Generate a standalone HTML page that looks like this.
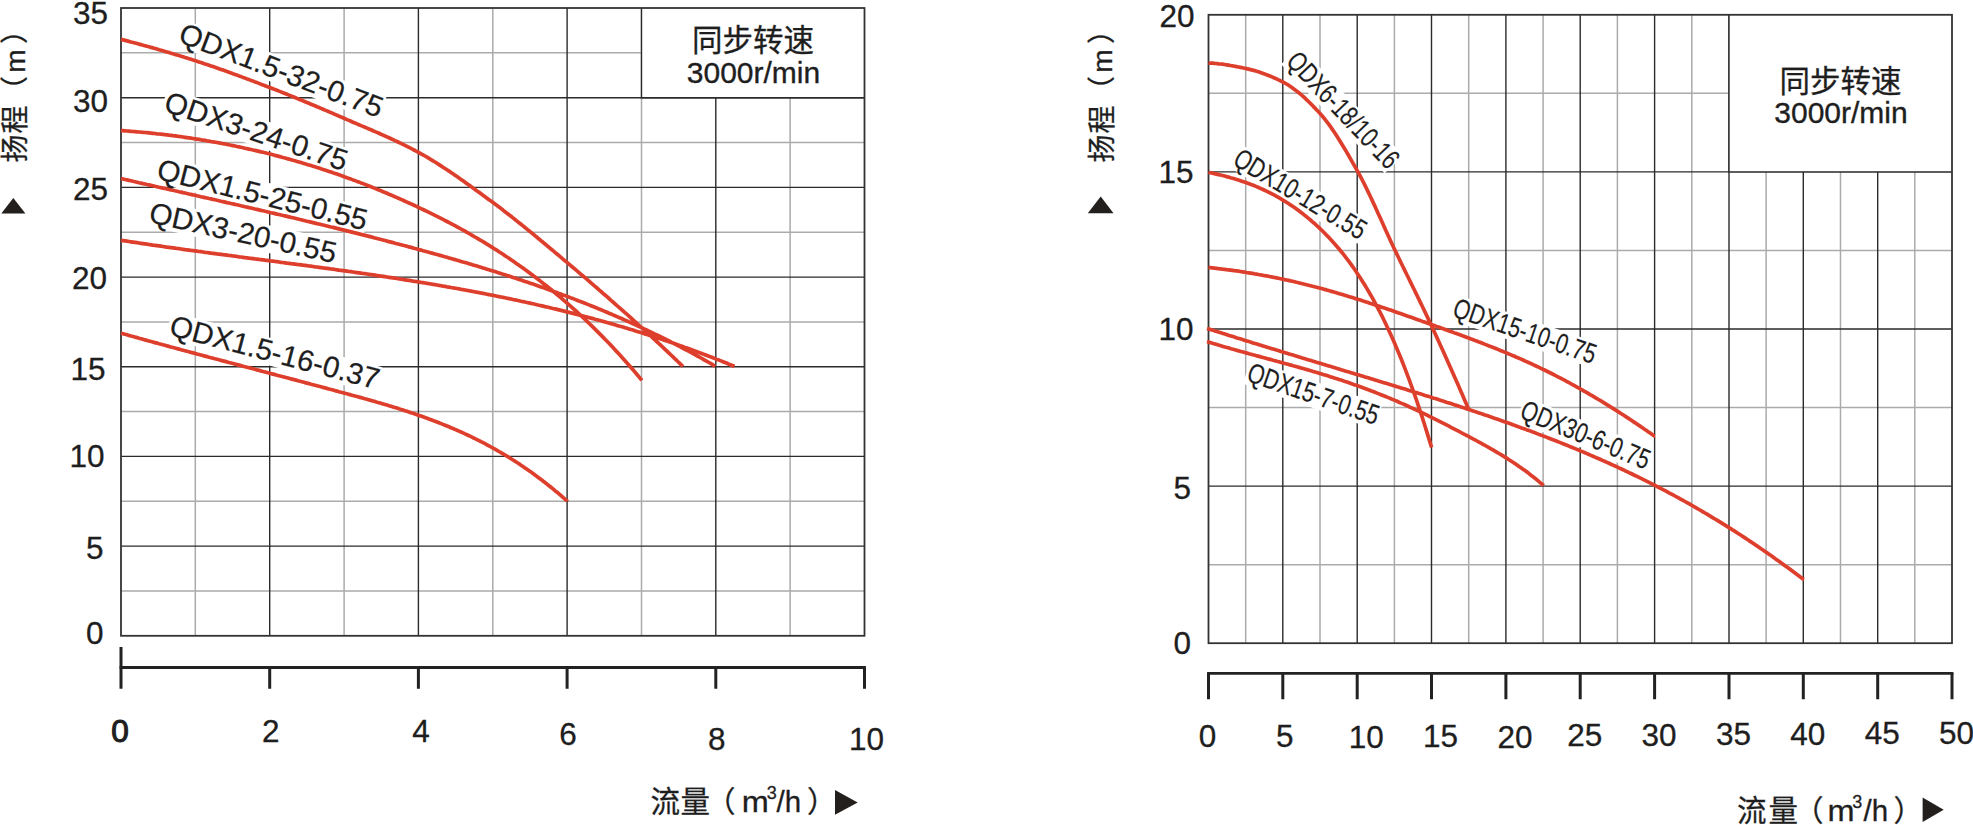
<!DOCTYPE html>
<html><head><meta charset="utf-8"><title>QDX pump curves</title>
<style>html,body{margin:0;padding:0;background:#fff;}svg{display:block;}</style></head>
<body><svg width="1973" height="825" viewBox="0 0 1973 825">
<rect x="0" y="0" width="1973" height="825" fill="#fff"/>
<path d="M195.3,8.0V635.8M344.1,8.0V635.8M492.8,8.0V635.8M641.5,8.0V635.8M790.1,8.0V635.8M121.0,591.0H864.5M121.0,501.3H864.5M121.0,411.6H864.5M121.0,321.9H864.5M121.0,232.2H864.5M121.0,142.5H864.5M121.0,52.8H864.5M1245.7,14.8V643.2M1320.0,14.8V643.2M1394.4,14.8V643.2M1468.7,14.8V643.2M1543.1,14.8V643.2M1617.4,14.8V643.2M1691.8,14.8V643.2M1766.1,14.8V643.2M1840.5,14.8V643.2M1914.8,14.8V643.2M1208.5,564.7H1952.0M1208.5,407.6H1952.0M1208.5,250.4H1952.0M1208.5,93.3H1952.0" stroke="#ababab" stroke-width="1.5" fill="none"/>
<path d="M269.7,8.0V635.8M418.4,8.0V635.8M567.1,8.0V635.8M715.8,8.0V635.8M121.0,546.1H864.5M121.0,456.4H864.5M121.0,366.7H864.5M121.0,277.1H864.5M121.0,187.4H864.5M121.0,97.7H864.5M1282.8,14.8V643.2M1357.2,14.8V643.2M1431.5,14.8V643.2M1505.9,14.8V643.2M1580.2,14.8V643.2M1654.6,14.8V643.2M1729.0,14.8V643.2M1803.3,14.8V643.2M1877.7,14.8V643.2M1208.5,486.1H1952.0M1208.5,329.0H1952.0M1208.5,171.9H1952.0" stroke="#2b2b2b" stroke-width="1.4" fill="none"/>
<rect x="641.5" y="8.0" width="223.0" height="89.7" fill="#fff"/>
<path d="M641.5,8.0V97.7H864.5" stroke="#2b2b2b" stroke-width="1.4" fill="none"/>
<rect x="1729.0" y="14.8" width="223.0" height="157.1" fill="#fff"/>
<path d="M1729.0,14.8V171.9H1952.0" stroke="#2b2b2b" stroke-width="1.4" fill="none"/>
<rect x="121.0" y="8.0" width="743.5" height="627.8" stroke="#333" stroke-width="1.8" fill="none"/>
<rect x="1208.5" y="14.8" width="743.5" height="628.4" stroke="#333" stroke-width="1.8" fill="none"/>
<rect transform="translate(177.0,41.6) rotate(20.80) scale(1.000,1)" x="-2" y="-23.1" width="217.5" height="27.2" fill="#fff"/>
<rect transform="translate(162.6,110.6) rotate(18.50) scale(1.000,1)" x="-2" y="-23.1" width="192.8" height="27.2" fill="#fff"/>
<rect transform="translate(155.5,178.4) rotate(14.00) scale(1.000,1)" x="-2" y="-23.1" width="217.5" height="27.2" fill="#fff"/>
<rect transform="translate(147.7,222.0) rotate(12.50) scale(1.000,1)" x="-2" y="-23.1" width="192.8" height="27.2" fill="#fff"/>
<rect transform="translate(168.0,334.8) rotate(14.70) scale(1.000,1)" x="-2" y="-23.1" width="217.5" height="27.2" fill="#fff"/>
<rect transform="translate(1285.0,62.5) rotate(46.50) scale(0.760,1)" x="-2" y="-21.8" width="198.1" height="25.8" fill="#fff"/>
<rect transform="translate(1231.4,164.0) rotate(30.80) scale(0.760,1)" x="-2" y="-21.8" width="198.1" height="25.8" fill="#fff"/>
<rect transform="translate(1451.3,316.0) rotate(18.80) scale(0.760,1)" x="-2" y="-21.8" width="198.1" height="25.8" fill="#fff"/>
<rect transform="translate(1245.5,380.5) rotate(19.00) scale(0.760,1)" x="-2" y="-21.8" width="182.5" height="25.8" fill="#fff"/>
<rect transform="translate(1518.6,417.6) rotate(22.30) scale(0.760,1)" x="-2" y="-21.8" width="182.5" height="25.8" fill="#fff"/>
<path d="M121.0,39.4 L123.0,39.9 L125.0,40.4 L127.0,40.9 L129.0,41.4 L131.0,42.0 L133.0,42.5 L135.0,43.0 L137.0,43.5 L139.0,44.1 L141.0,44.6 L143.0,45.2 L145.0,45.7 L147.0,46.3 L149.0,46.8 L151.0,47.4 L153.0,47.9 L155.0,48.5 L157.0,49.1 L159.0,49.7 L161.0,50.2 L163.0,50.8 L165.0,51.4 L167.0,52.0 L169.0,52.6 L171.0,53.2 L173.0,53.8 L175.0,54.4 L177.0,55.0 L179.0,55.6 L181.0,56.2 L183.0,56.8 L185.0,57.5 L187.0,58.1 L189.0,58.7 L191.0,59.3 L193.0,60.0 L195.0,60.6 L197.0,61.2 L199.0,61.9 L201.0,62.5 L203.0,63.2 L205.0,63.9 L207.0,64.5 L209.0,65.2 L211.0,65.9 L213.0,66.6 L215.0,67.3 L217.0,68.0 L219.0,68.7 L221.0,69.4 L223.0,70.1 L225.0,70.8 L227.0,71.5 L229.0,72.2 L231.0,72.9 L233.0,73.7 L235.0,74.4 L237.0,75.1 L239.0,75.9 L241.0,76.6 L243.0,77.4 L245.0,78.1 L247.0,78.9 L249.0,79.6 L251.0,80.4 L253.0,81.1 L255.0,81.9 L257.0,82.6 L259.0,83.4 L261.0,84.2 L263.0,84.9 L265.0,85.7 L267.0,86.5 L269.0,87.2 L271.0,88.0 L273.0,88.8 L275.0,89.6 L277.0,90.3 L279.0,91.1 L281.0,91.9 L283.0,92.7 L285.0,93.5 L287.0,94.3 L289.0,95.1 L291.0,95.9 L293.0,96.7 L295.0,97.5 L297.0,98.4 L299.0,99.2 L301.0,100.0 L303.0,100.8 L305.0,101.7 L307.0,102.5 L309.0,103.3 L311.0,104.2 L313.0,105.0 L315.0,105.8 L317.0,106.7 L319.0,107.5 L321.0,108.4 L323.0,109.2 L325.0,110.1 L327.0,110.9 L329.0,111.8 L331.0,112.6 L333.0,113.5 L335.0,114.4 L337.0,115.2 L339.0,116.1 L341.0,117.0 L343.0,117.8 L345.0,118.7 L347.0,119.6 L349.0,120.4 L351.0,121.3 L353.0,122.2 L355.0,123.0 L357.0,123.9 L359.0,124.7 L361.0,125.6 L363.0,126.4 L365.0,127.3 L367.0,128.1 L369.0,129.0 L371.0,129.8 L373.0,130.7 L375.0,131.6 L377.0,132.4 L379.0,133.3 L381.0,134.2 L383.0,135.1 L385.0,136.0 L387.0,136.9 L389.0,137.8 L391.0,138.7 L393.0,139.6 L395.0,140.6 L397.0,141.5 L399.0,142.5 L401.0,143.4 L403.0,144.4 L405.0,145.4 L407.0,146.4 L409.0,147.4 L411.0,148.4 L413.0,149.5 L415.0,150.5 L417.0,151.6 L419.0,152.7 L421.0,153.8 L423.0,154.9 L425.0,156.0 L427.0,157.2 L429.0,158.4 L431.0,159.6 L433.0,160.8 L435.0,162.0 L437.0,163.3 L439.0,164.6 L441.0,165.9 L443.0,167.2 L445.0,168.5 L447.0,169.8 L449.0,171.1 L451.0,172.5 L453.0,173.8 L455.0,175.2 L457.0,176.6 L459.0,178.0 L461.0,179.4 L463.0,180.8 L465.0,182.2 L467.0,183.7 L469.0,185.1 L471.0,186.5 L473.0,188.0 L475.0,189.4 L477.0,190.9 L479.0,192.3 L481.0,193.8 L483.0,195.3 L485.0,196.7 L487.0,198.2 L489.0,199.7 L491.0,201.1 L493.0,202.6 L495.0,204.1 L497.0,205.6 L499.0,207.1 L501.0,208.6 L503.0,210.1 L505.0,211.7 L507.0,213.2 L509.0,214.8 L511.0,216.3 L513.0,217.9 L515.0,219.5 L517.0,221.1 L519.0,222.7 L521.0,224.3 L523.0,225.9 L525.0,227.5 L527.0,229.1 L529.0,230.8 L531.0,232.4 L533.0,234.0 L535.0,235.7 L537.0,237.3 L539.0,239.0 L541.0,240.7 L543.0,242.3 L545.0,244.0 L547.0,245.7 L549.0,247.3 L551.0,249.0 L553.0,250.7 L555.0,252.4 L557.0,254.0 L559.0,255.7 L561.0,257.4 L563.0,259.1 L565.0,260.8 L567.0,262.4 L569.0,264.1 L571.0,265.8 L573.0,267.5 L575.0,269.2 L577.0,270.9 L579.0,272.6 L581.0,274.3 L583.0,276.0 L585.0,277.7 L587.0,279.4 L589.0,281.1 L591.0,282.9 L593.0,284.6 L595.0,286.3 L597.0,288.0 L599.0,289.8 L601.0,291.5 L603.0,293.3 L605.0,295.0 L607.0,296.7 L609.0,298.5 L611.0,300.3 L613.0,302.0 L615.0,303.8 L617.0,305.6 L619.0,307.3 L621.0,309.1 L623.0,310.9 L625.0,312.7 L627.0,314.4 L629.0,316.2 L631.0,318.0 L633.0,319.8 L635.0,321.6 L637.0,323.4 L639.0,325.3 L641.0,327.1 L643.0,328.9 L645.0,330.7 L647.0,332.5 L649.0,334.4 L651.0,336.2 L653.0,338.1 L655.0,339.9 L657.0,341.8 L659.0,343.7 L661.0,345.5 L663.0,347.4 L665.0,349.3 L667.0,351.2 L669.0,353.1 L671.0,355.0 L673.0,356.9 L675.0,358.8 L677.0,360.7 L679.0,362.7 L681.0,364.6 L683.0,366.5M121.0,130.6 L123.0,130.7 L125.0,130.8 L127.0,131.0 L129.0,131.1 L131.0,131.3 L133.0,131.5 L135.0,131.6 L137.0,131.8 L139.0,132.0 L141.0,132.2 L143.0,132.3 L145.0,132.5 L147.0,132.7 L149.0,132.9 L151.0,133.1 L153.0,133.3 L155.0,133.5 L157.0,133.8 L159.0,134.0 L161.0,134.2 L163.0,134.4 L165.0,134.7 L167.0,134.9 L169.0,135.2 L171.0,135.4 L173.0,135.7 L175.0,135.9 L177.0,136.2 L179.0,136.5 L181.0,136.7 L183.0,137.0 L185.0,137.3 L187.0,137.6 L189.0,137.9 L191.0,138.2 L193.0,138.5 L195.0,138.8 L197.0,139.1 L199.0,139.4 L201.0,139.8 L203.0,140.1 L205.0,140.4 L207.0,140.8 L209.0,141.1 L211.0,141.5 L213.0,141.8 L215.0,142.2 L217.0,142.5 L219.0,142.9 L221.0,143.3 L223.0,143.7 L225.0,144.0 L227.0,144.4 L229.0,144.8 L231.0,145.2 L233.0,145.6 L235.0,146.0 L237.0,146.5 L239.0,146.9 L241.0,147.3 L243.0,147.7 L245.0,148.2 L247.0,148.6 L249.0,149.1 L251.0,149.5 L253.0,150.0 L255.0,150.4 L257.0,150.9 L259.0,151.4 L261.0,151.9 L263.0,152.3 L265.0,152.8 L267.0,153.3 L269.0,153.8 L271.0,154.3 L273.0,154.8 L275.0,155.4 L277.0,155.9 L279.0,156.4 L281.0,156.9 L283.0,157.5 L285.0,158.0 L287.0,158.6 L289.0,159.1 L291.0,159.7 L293.0,160.3 L295.0,160.8 L297.0,161.4 L299.0,162.0 L301.0,162.6 L303.0,163.2 L305.0,163.8 L307.0,164.4 L309.0,165.0 L311.0,165.6 L313.0,166.2 L315.0,166.8 L317.0,167.5 L319.0,168.1 L321.0,168.8 L323.0,169.4 L325.0,170.1 L327.0,170.7 L329.0,171.4 L331.0,172.1 L333.0,172.8 L335.0,173.4 L337.0,174.1 L339.0,174.8 L341.0,175.5 L343.0,176.2 L345.0,177.0 L347.0,177.7 L349.0,178.4 L351.0,179.1 L353.0,179.9 L355.0,180.6 L357.0,181.4 L359.0,182.1 L361.0,182.9 L363.0,183.6 L365.0,184.4 L367.0,185.2 L369.0,186.0 L371.0,186.8 L373.0,187.6 L375.0,188.4 L377.0,189.2 L379.0,190.0 L381.0,190.8 L383.0,191.7 L385.0,192.5 L387.0,193.3 L389.0,194.2 L391.0,195.0 L393.0,195.9 L395.0,196.8 L397.0,197.6 L399.0,198.5 L401.0,199.4 L403.0,200.3 L405.0,201.2 L407.0,202.1 L409.0,203.0 L411.0,203.9 L413.0,204.8 L415.0,205.7 L417.0,206.7 L419.0,207.6 L421.0,208.6 L423.0,209.5 L425.0,210.5 L427.0,211.4 L429.0,212.4 L431.0,213.4 L433.0,214.4 L435.0,215.4 L437.0,216.4 L439.0,217.4 L441.0,218.4 L443.0,219.4 L445.0,220.5 L447.0,221.5 L449.0,222.5 L451.0,223.6 L453.0,224.7 L455.0,225.7 L457.0,226.8 L459.0,227.9 L461.0,229.0 L463.0,230.1 L465.0,231.2 L467.0,232.4 L469.0,233.5 L471.0,234.6 L473.0,235.8 L475.0,237.0 L477.0,238.1 L479.0,239.3 L481.0,240.5 L483.0,241.7 L485.0,242.9 L487.0,244.2 L489.0,245.4 L491.0,246.6 L493.0,247.9 L495.0,249.2 L497.0,250.4 L499.0,251.7 L501.0,253.0 L503.0,254.3 L505.0,255.7 L507.0,257.0 L509.0,258.3 L511.0,259.7 L513.0,261.1 L515.0,262.5 L517.0,263.9 L519.0,265.3 L521.0,266.7 L523.0,268.1 L525.0,269.6 L527.0,271.0 L529.0,272.5 L531.0,274.0 L533.0,275.5 L535.0,277.0 L537.0,278.5 L539.0,280.0 L541.0,281.6 L543.0,283.2 L545.0,284.7 L547.0,286.3 L549.0,287.9 L551.0,289.5 L553.0,291.2 L555.0,292.8 L557.0,294.5 L559.0,296.2 L561.0,297.9 L563.0,299.6 L565.0,301.3 L567.0,303.0 L569.0,304.8 L571.0,306.6 L573.0,308.4 L575.0,310.2 L577.0,312.0 L579.0,313.8 L581.0,315.7 L583.0,317.5 L585.0,319.4 L587.0,321.3 L589.0,323.2 L591.0,325.2 L593.0,327.1 L595.0,329.1 L597.0,331.1 L599.0,333.1 L601.0,335.1 L603.0,337.1 L605.0,339.2 L607.0,341.2 L609.0,343.3 L611.0,345.4 L613.0,347.5 L615.0,349.7 L617.0,351.9 L619.0,354.0 L621.0,356.2 L623.0,358.4 L625.0,360.7 L627.0,362.9 L629.0,365.2 L631.0,367.5 L633.0,369.8 L635.0,372.1 L637.0,374.5 L639.0,376.9 L641.0,379.3 L641.7,380.5M121.0,178.6 L123.0,179.0 L125.0,179.5 L127.0,179.9 L129.0,180.4 L131.0,180.8 L133.0,181.3 L135.0,181.7 L137.0,182.2 L139.0,182.7 L141.0,183.1 L143.0,183.6 L145.0,184.0 L147.0,184.5 L149.0,184.9 L151.0,185.4 L153.0,185.8 L155.0,186.3 L157.0,186.7 L159.0,187.2 L161.0,187.6 L163.0,188.1 L165.0,188.5 L167.0,189.0 L169.0,189.4 L171.0,189.9 L173.0,190.3 L175.0,190.8 L177.0,191.2 L179.0,191.7 L181.0,192.1 L183.0,192.6 L185.0,193.0 L187.0,193.5 L189.0,194.0 L191.0,194.4 L193.0,194.9 L195.0,195.3 L197.0,195.8 L199.0,196.2 L201.0,196.7 L203.0,197.1 L205.0,197.6 L207.0,198.0 L209.0,198.5 L211.0,198.9 L213.0,199.4 L215.0,199.8 L217.0,200.3 L219.0,200.7 L221.0,201.2 L223.0,201.6 L225.0,202.1 L227.0,202.6 L229.0,203.0 L231.0,203.5 L233.0,203.9 L235.0,204.4 L237.0,204.8 L239.0,205.3 L241.0,205.8 L243.0,206.2 L245.0,206.7 L247.0,207.1 L249.0,207.6 L251.0,208.0 L253.0,208.5 L255.0,209.0 L257.0,209.4 L259.0,209.9 L261.0,210.4 L263.0,210.8 L265.0,211.3 L267.0,211.7 L269.0,212.2 L271.0,212.7 L273.0,213.1 L275.0,213.6 L277.0,214.1 L279.0,214.5 L281.0,215.0 L283.0,215.5 L285.0,215.9 L287.0,216.4 L289.0,216.9 L291.0,217.4 L293.0,217.8 L295.0,218.3 L297.0,218.8 L299.0,219.3 L301.0,219.7 L303.0,220.2 L305.0,220.7 L307.0,221.2 L309.0,221.6 L311.0,222.1 L313.0,222.6 L315.0,223.1 L317.0,223.6 L319.0,224.0 L321.0,224.5 L323.0,225.0 L325.0,225.5 L327.0,226.0 L329.0,226.5 L331.0,227.0 L333.0,227.4 L335.0,227.9 L337.0,228.4 L339.0,228.9 L341.0,229.4 L343.0,229.9 L345.0,230.4 L347.0,230.9 L349.0,231.4 L351.0,231.9 L353.0,232.4 L355.0,232.9 L357.0,233.4 L359.0,233.9 L361.0,234.4 L363.0,234.9 L365.0,235.4 L367.0,235.9 L369.0,236.4 L371.0,236.9 L373.0,237.4 L375.0,238.0 L377.0,238.5 L379.0,239.0 L381.0,239.5 L383.0,240.0 L385.0,240.5 L387.0,241.1 L389.0,241.6 L391.0,242.1 L393.0,242.6 L395.0,243.2 L397.0,243.7 L399.0,244.2 L401.0,244.7 L403.0,245.3 L405.0,245.8 L407.0,246.3 L409.0,246.9 L411.0,247.4 L413.0,247.9 L415.0,248.5 L417.0,249.0 L419.0,249.6 L421.0,250.1 L423.0,250.7 L425.0,251.2 L427.0,251.8 L429.0,252.3 L431.0,252.9 L433.0,253.4 L435.0,254.0 L437.0,254.5 L439.0,255.1 L441.0,255.6 L443.0,256.2 L445.0,256.8 L447.0,257.3 L449.0,257.9 L451.0,258.5 L453.0,259.1 L455.0,259.6 L457.0,260.2 L459.0,260.8 L461.0,261.4 L463.0,262.0 L465.0,262.5 L467.0,263.1 L469.0,263.7 L471.0,264.3 L473.0,264.9 L475.0,265.5 L477.0,266.1 L479.0,266.7 L481.0,267.3 L483.0,267.9 L485.0,268.5 L487.0,269.2 L489.0,269.8 L491.0,270.4 L493.0,271.0 L495.0,271.6 L497.0,272.3 L499.0,272.9 L501.0,273.5 L503.0,274.2 L505.0,274.8 L507.0,275.5 L509.0,276.1 L511.0,276.7 L513.0,277.4 L515.0,278.1 L517.0,278.7 L519.0,279.4 L521.0,280.0 L523.0,280.7 L525.0,281.4 L527.0,282.1 L529.0,282.7 L531.0,283.4 L533.0,284.1 L535.0,284.8 L537.0,285.5 L539.0,286.2 L541.0,286.9 L543.0,287.6 L545.0,288.3 L547.0,289.0 L549.0,289.7 L551.0,290.5 L553.0,291.2 L555.0,291.9 L557.0,292.6 L559.0,293.4 L561.0,294.1 L563.0,294.9 L565.0,295.6 L567.0,296.4 L569.0,297.1 L571.0,297.9 L573.0,298.6 L575.0,299.4 L577.0,300.2 L579.0,301.0 L581.0,301.7 L583.0,302.5 L585.0,303.3 L587.0,304.1 L589.0,304.9 L591.0,305.7 L593.0,306.5 L595.0,307.3 L597.0,308.1 L599.0,309.0 L601.0,309.8 L603.0,310.6 L605.0,311.5 L607.0,312.3 L609.0,313.2 L611.0,314.0 L613.0,314.9 L615.0,315.7 L617.0,316.6 L619.0,317.5 L621.0,318.3 L623.0,319.2 L625.0,320.1 L627.0,321.0 L629.0,321.9 L631.0,322.8 L633.0,323.7 L635.0,324.6 L637.0,325.5 L639.0,326.5 L641.0,327.4 L643.0,328.3 L645.0,329.3 L647.0,330.2 L649.0,331.2 L651.0,332.1 L653.0,333.1 L655.0,334.1 L657.0,335.0 L659.0,336.0 L661.0,337.0 L663.0,338.0 L665.0,339.0 L667.0,340.0 L669.0,341.0 L671.0,342.0 L673.0,343.1 L675.0,344.1 L677.0,345.1 L679.0,346.2 L681.0,347.2 L683.0,348.3 L685.0,349.3 L687.0,350.4 L689.0,351.4 L691.0,352.5 L693.0,353.6 L695.0,354.7 L697.0,355.8 L699.0,356.9 L701.0,358.0 L703.0,359.1 L705.0,360.3 L707.0,361.4 L709.0,362.5 L711.0,363.7 L713.0,364.8 L715.0,366.5M121.0,240.3 L123.0,240.6 L125.0,240.9 L127.0,241.2 L129.0,241.5 L131.0,241.8 L133.0,242.1 L135.0,242.4 L137.0,242.7 L139.0,243.0 L141.0,243.3 L143.0,243.6 L145.0,243.9 L147.0,244.2 L149.0,244.5 L151.0,244.8 L153.0,245.1 L155.0,245.3 L157.0,245.6 L159.0,245.9 L161.0,246.2 L163.0,246.5 L165.0,246.8 L167.0,247.1 L169.0,247.3 L171.0,247.6 L173.0,247.9 L175.0,248.2 L177.0,248.5 L179.0,248.7 L181.0,249.0 L183.0,249.3 L185.0,249.6 L187.0,249.8 L189.0,250.1 L191.0,250.4 L193.0,250.6 L195.0,250.9 L197.0,251.2 L199.0,251.5 L201.0,251.7 L203.0,252.0 L205.0,252.3 L207.0,252.5 L209.0,252.8 L211.0,253.1 L213.0,253.3 L215.0,253.6 L217.0,253.9 L219.0,254.1 L221.0,254.4 L223.0,254.7 L225.0,254.9 L227.0,255.2 L229.0,255.5 L231.0,255.7 L233.0,256.0 L235.0,256.2 L237.0,256.5 L239.0,256.8 L241.0,257.0 L243.0,257.3 L245.0,257.6 L247.0,257.8 L249.0,258.1 L251.0,258.3 L253.0,258.6 L255.0,258.9 L257.0,259.1 L259.0,259.4 L261.0,259.6 L263.0,259.9 L265.0,260.2 L267.0,260.4 L269.0,260.7 L271.0,261.0 L273.0,261.2 L275.0,261.5 L277.0,261.7 L279.0,262.0 L281.0,262.3 L283.0,262.5 L285.0,262.8 L287.0,263.1 L289.0,263.3 L291.0,263.6 L293.0,263.8 L295.0,264.1 L297.0,264.4 L299.0,264.6 L301.0,264.9 L303.0,265.2 L305.0,265.4 L307.0,265.7 L309.0,266.0 L311.0,266.2 L313.0,266.5 L315.0,266.8 L317.0,267.0 L319.0,267.3 L321.0,267.6 L323.0,267.9 L325.0,268.1 L327.0,268.4 L329.0,268.7 L331.0,269.0 L333.0,269.2 L335.0,269.5 L337.0,269.8 L339.0,270.1 L341.0,270.3 L343.0,270.6 L345.0,270.9 L347.0,271.2 L349.0,271.5 L351.0,271.7 L353.0,272.0 L355.0,272.3 L357.0,272.6 L359.0,272.9 L361.0,273.2 L363.0,273.5 L365.0,273.7 L367.0,274.0 L369.0,274.3 L371.0,274.6 L373.0,274.9 L375.0,275.2 L377.0,275.5 L379.0,275.8 L381.0,276.1 L383.0,276.4 L385.0,276.7 L387.0,277.0 L389.0,277.3 L391.0,277.6 L393.0,277.9 L395.0,278.2 L397.0,278.5 L399.0,278.8 L401.0,279.2 L403.0,279.5 L405.0,279.8 L407.0,280.1 L409.0,280.4 L411.0,280.7 L413.0,281.1 L415.0,281.4 L417.0,281.7 L419.0,282.0 L421.0,282.4 L423.0,282.7 L425.0,283.0 L427.0,283.3 L429.0,283.7 L431.0,284.0 L433.0,284.3 L435.0,284.7 L437.0,285.0 L439.0,285.4 L441.0,285.7 L443.0,286.1 L445.0,286.4 L447.0,286.8 L449.0,287.1 L451.0,287.5 L453.0,287.8 L455.0,288.2 L457.0,288.5 L459.0,288.9 L461.0,289.3 L463.0,289.6 L465.0,290.0 L467.0,290.4 L469.0,290.7 L471.0,291.1 L473.0,291.5 L475.0,291.9 L477.0,292.2 L479.0,292.6 L481.0,293.0 L483.0,293.4 L485.0,293.8 L487.0,294.2 L489.0,294.6 L491.0,295.0 L493.0,295.4 L495.0,295.8 L497.0,296.2 L499.0,296.6 L501.0,297.0 L503.0,297.4 L505.0,297.8 L507.0,298.2 L509.0,298.6 L511.0,299.0 L513.0,299.5 L515.0,299.9 L517.0,300.3 L519.0,300.7 L521.0,301.2 L523.0,301.6 L525.0,302.0 L527.0,302.5 L529.0,302.9 L531.0,303.4 L533.0,303.8 L535.0,304.3 L537.0,304.7 L539.0,305.2 L541.0,305.6 L543.0,306.1 L545.0,306.6 L547.0,307.0 L549.0,307.5 L551.0,308.0 L553.0,308.5 L555.0,308.9 L557.0,309.4 L559.0,309.9 L561.0,310.4 L563.0,310.9 L565.0,311.4 L567.0,311.9 L569.0,312.4 L571.0,312.9 L573.0,313.4 L575.0,313.9 L577.0,314.4 L579.0,314.9 L581.0,315.5 L583.0,316.0 L585.0,316.5 L587.0,317.0 L589.0,317.6 L591.0,318.1 L593.0,318.6 L595.0,319.2 L597.0,319.7 L599.0,320.3 L601.0,320.8 L603.0,321.4 L605.0,321.9 L607.0,322.5 L609.0,323.1 L611.0,323.6 L613.0,324.2 L615.0,324.8 L617.0,325.4 L619.0,326.0 L621.0,326.5 L623.0,327.1 L625.0,327.7 L627.0,328.3 L629.0,328.9 L631.0,329.5 L633.0,330.1 L635.0,330.8 L637.0,331.4 L639.0,332.0 L641.0,332.6 L643.0,333.2 L645.0,333.9 L647.0,334.5 L649.0,335.2 L651.0,335.8 L653.0,336.4 L655.0,337.1 L657.0,337.8 L659.0,338.4 L661.0,339.1 L663.0,339.7 L665.0,340.4 L667.0,341.1 L669.0,341.8 L671.0,342.5 L673.0,343.1 L675.0,343.8 L677.0,344.5 L679.0,345.2 L681.0,345.9 L683.0,346.6 L685.0,347.4 L687.0,348.1 L689.0,348.8 L691.0,349.5 L693.0,350.3 L695.0,351.0 L697.0,351.7 L699.0,352.5 L701.0,353.2 L703.0,354.0 L705.0,354.7 L707.0,355.5 L709.0,356.3 L711.0,357.0 L713.0,357.8 L715.0,358.6 L717.0,359.4 L719.0,360.1 L721.0,360.9 L723.0,361.7 L725.0,362.5 L727.0,363.3 L729.0,364.2 L731.0,365.0 L733.0,365.8 L734.5,366.5M121.0,333.2 L123.0,333.7 L125.0,334.3 L127.0,334.8 L129.0,335.4 L131.0,336.0 L133.0,336.5 L135.0,337.1 L137.0,337.6 L139.0,338.2 L141.0,338.7 L143.0,339.3 L145.0,339.9 L147.0,340.4 L149.0,341.0 L151.0,341.5 L153.0,342.1 L155.0,342.6 L157.0,343.1 L159.0,343.7 L161.0,344.2 L163.0,344.8 L165.0,345.3 L167.0,345.9 L169.0,346.4 L171.0,347.0 L173.0,347.5 L175.0,348.0 L177.0,348.6 L179.0,349.1 L181.0,349.7 L183.0,350.2 L185.0,350.7 L187.0,351.3 L189.0,351.8 L191.0,352.4 L193.0,352.9 L195.0,353.4 L197.0,354.0 L199.0,354.5 L201.0,355.0 L203.0,355.6 L205.0,356.1 L207.0,356.6 L209.0,357.2 L211.0,357.7 L213.0,358.2 L215.0,358.8 L217.0,359.3 L219.0,359.8 L221.0,360.4 L223.0,360.9 L225.0,361.4 L227.0,361.9 L229.0,362.5 L231.0,363.0 L233.0,363.5 L235.0,364.1 L237.0,364.6 L239.0,365.1 L241.0,365.6 L243.0,366.2 L245.0,366.7 L247.0,367.2 L249.0,367.8 L251.0,368.3 L253.0,368.8 L255.0,369.3 L257.0,369.9 L259.0,370.4 L261.0,370.9 L263.0,371.5 L265.0,372.0 L267.0,372.5 L269.0,373.0 L271.0,373.6 L273.0,374.1 L275.0,374.6 L277.0,375.2 L279.0,375.7 L281.0,376.2 L283.0,376.7 L285.0,377.3 L287.0,377.8 L289.0,378.3 L291.0,378.9 L293.0,379.4 L295.0,379.9 L297.0,380.4 L299.0,381.0 L301.0,381.5 L303.0,382.0 L305.0,382.6 L307.0,383.1 L309.0,383.6 L311.0,384.2 L313.0,384.7 L315.0,385.2 L317.0,385.8 L319.0,386.3 L321.0,386.8 L323.0,387.4 L325.0,387.9 L327.0,388.4 L329.0,389.0 L331.0,389.5 L333.0,390.0 L335.0,390.6 L337.0,391.1 L339.0,391.7 L341.0,392.2 L343.0,392.7 L345.0,393.3 L347.0,393.8 L349.0,394.4 L351.0,394.9 L353.0,395.5 L355.0,396.0 L357.0,396.5 L359.0,397.1 L361.0,397.6 L363.0,398.2 L365.0,398.8 L367.0,399.3 L369.0,399.9 L371.0,400.4 L373.0,401.0 L375.0,401.6 L377.0,402.2 L379.0,402.7 L381.0,403.3 L383.0,403.9 L385.0,404.5 L387.0,405.1 L389.0,405.7 L391.0,406.3 L393.0,406.9 L395.0,407.5 L397.0,408.1 L399.0,408.8 L401.0,409.4 L403.0,410.0 L405.0,410.7 L407.0,411.3 L409.0,412.0 L411.0,412.7 L413.0,413.3 L415.0,414.0 L417.0,414.7 L419.0,415.4 L421.0,416.1 L423.0,416.8 L425.0,417.5 L427.0,418.2 L429.0,419.0 L431.0,419.7 L433.0,420.5 L435.0,421.2 L437.0,422.0 L439.0,422.8 L441.0,423.6 L443.0,424.4 L445.0,425.2 L447.0,426.0 L449.0,426.8 L451.0,427.7 L453.0,428.5 L455.0,429.4 L457.0,430.2 L459.0,431.1 L461.0,432.0 L463.0,432.9 L465.0,433.9 L467.0,434.8 L469.0,435.7 L471.0,436.7 L473.0,437.7 L475.0,438.6 L477.0,439.6 L479.0,440.6 L481.0,441.7 L483.0,442.7 L485.0,443.7 L487.0,444.8 L489.0,445.9 L491.0,447.0 L493.0,448.1 L495.0,449.2 L497.0,450.3 L499.0,451.5 L501.0,452.6 L503.0,453.8 L505.0,455.0 L507.0,456.2 L509.0,457.5 L511.0,458.7 L513.0,460.0 L515.0,461.2 L517.0,462.5 L519.0,463.8 L521.0,465.2 L523.0,466.5 L525.0,467.9 L527.0,469.3 L529.0,470.7 L531.0,472.1 L533.0,473.5 L535.0,475.0 L537.0,476.4 L539.0,477.9 L541.0,479.4 L543.0,481.0 L545.0,482.5 L547.0,484.1 L549.0,485.7 L551.0,487.3 L553.0,488.9 L555.0,490.6 L557.0,492.2 L559.0,493.9 L561.0,495.6 L563.0,497.4 L565.0,499.1 L567.0,500.9 L567.1,501.4M1208.5,63.0 L1210.5,63.1 L1212.5,63.2 L1214.5,63.4 L1216.5,63.5 L1218.5,63.8 L1220.5,64.0 L1222.5,64.2 L1224.5,64.5 L1226.5,64.8 L1228.5,65.1 L1230.5,65.5 L1232.5,65.8 L1234.5,66.2 L1236.5,66.6 L1238.5,67.0 L1240.5,67.4 L1242.5,67.8 L1244.5,68.2 L1246.5,68.6 L1248.5,69.1 L1250.5,69.6 L1252.5,70.1 L1254.5,70.6 L1256.5,71.2 L1258.5,71.8 L1260.5,72.5 L1262.5,73.2 L1264.5,73.9 L1266.5,74.7 L1268.5,75.5 L1270.5,76.3 L1272.5,77.1 L1274.5,78.0 L1276.5,78.9 L1278.5,79.9 L1280.5,80.8 L1282.5,81.8 L1284.5,82.9 L1286.5,84.0 L1288.5,85.2 L1290.5,86.5 L1292.5,87.9 L1294.5,89.4 L1296.5,90.9 L1298.5,92.5 L1300.5,94.2 L1302.5,95.9 L1304.5,97.7 L1306.5,99.6 L1308.5,101.5 L1310.5,103.5 L1312.5,105.5 L1314.5,107.6 L1316.5,109.7 L1318.5,111.8 L1320.5,114.0 L1322.5,116.3 L1324.5,118.7 L1326.5,121.3 L1328.5,123.9 L1330.5,126.7 L1332.5,129.6 L1334.5,132.5 L1336.5,135.6 L1338.5,138.7 L1340.5,141.9 L1342.5,145.2 L1344.5,148.5 L1346.5,151.9 L1348.5,155.3 L1350.5,158.8 L1352.5,162.3 L1354.5,165.9 L1356.5,169.4 L1358.5,173.0 L1360.5,176.7 L1362.5,180.5 L1364.5,184.4 L1366.5,188.5 L1368.5,192.6 L1370.5,196.8 L1372.5,201.1 L1374.5,205.4 L1376.5,209.8 L1378.5,214.2 L1380.5,218.6 L1382.5,223.1 L1384.5,227.5 L1386.5,231.9 L1388.5,236.3 L1390.5,240.7 L1392.5,245.0 L1394.5,249.2 L1396.5,253.4 L1398.5,257.5 L1400.5,261.7 L1402.5,265.8 L1404.5,269.9 L1406.5,274.0 L1408.5,278.0 L1410.5,282.1 L1412.5,286.2 L1414.5,290.3 L1416.5,294.4 L1418.5,298.5 L1420.5,302.6 L1422.5,306.8 L1424.5,310.9 L1426.5,315.1 L1428.5,319.4 L1430.5,323.6 L1432.5,327.9 L1434.5,332.3 L1436.5,336.6 L1438.5,341.0 L1440.5,345.4 L1442.5,349.8 L1444.5,354.2 L1446.5,358.7 L1448.5,363.2 L1450.5,367.7 L1452.5,372.2 L1454.5,376.7 L1456.5,381.3 L1458.5,385.8 L1460.5,390.4 L1462.5,395.0 L1464.5,399.7 L1466.5,404.3 L1468.5,409.0M1208.5,172.3 L1210.5,172.8 L1212.5,173.2 L1214.5,173.6 L1216.5,174.1 L1218.5,174.6 L1220.5,175.0 L1222.5,175.5 L1224.5,176.0 L1226.5,176.6 L1228.5,177.1 L1230.5,177.7 L1232.5,178.2 L1234.5,178.8 L1236.5,179.4 L1238.5,180.1 L1240.5,180.7 L1242.5,181.4 L1244.5,182.1 L1246.5,182.8 L1248.5,183.5 L1250.5,184.3 L1252.5,185.0 L1254.5,185.8 L1256.5,186.6 L1258.5,187.5 L1260.5,188.4 L1262.5,189.3 L1264.5,190.2 L1266.5,191.1 L1268.5,192.1 L1270.5,193.1 L1272.5,194.2 L1274.5,195.2 L1276.5,196.3 L1278.5,197.4 L1280.5,198.6 L1282.5,199.8 L1284.5,201.0 L1286.5,202.3 L1288.5,203.5 L1290.5,204.9 L1292.5,206.2 L1294.5,207.6 L1296.5,209.0 L1298.5,210.5 L1300.5,212.0 L1302.5,213.5 L1304.5,215.1 L1306.5,216.7 L1308.5,218.4 L1310.5,220.0 L1312.5,221.8 L1314.5,223.5 L1316.5,225.4 L1318.5,227.2 L1320.5,229.1 L1322.5,231.0 L1324.5,233.0 L1326.5,235.1 L1328.5,237.1 L1330.5,239.3 L1332.5,241.5 L1334.5,243.7 L1336.5,246.0 L1338.5,248.3 L1340.5,250.7 L1342.5,253.2 L1344.5,255.7 L1346.5,258.3 L1348.5,260.9 L1350.5,263.6 L1352.5,266.4 L1354.5,269.3 L1356.5,272.2 L1358.5,275.2 L1360.5,278.2 L1362.5,281.4 L1364.5,284.6 L1366.5,287.9 L1368.5,291.3 L1370.5,294.7 L1372.5,298.2 L1374.5,301.9 L1376.5,305.6 L1378.5,309.4 L1380.5,313.2 L1382.5,317.2 L1384.5,321.3 L1386.5,325.5 L1388.5,329.7 L1390.5,334.1 L1392.5,338.5 L1394.5,343.1 L1396.5,347.7 L1398.5,352.5 L1400.5,357.3 L1402.5,362.3 L1404.5,367.4 L1406.5,372.6 L1408.5,377.9 L1410.5,383.3 L1412.5,388.8 L1414.5,394.5 L1416.5,400.2 L1418.5,406.1 L1420.5,412.1 L1422.5,418.2 L1424.5,424.5 L1426.5,430.9 L1428.5,437.4 L1430.5,444.0 L1431.6,447.5M1208.5,267.4 L1210.5,267.7 L1212.5,267.9 L1214.5,268.1 L1216.5,268.3 L1218.5,268.6 L1220.5,268.8 L1222.5,269.1 L1224.5,269.3 L1226.5,269.6 L1228.5,269.8 L1230.5,270.1 L1232.5,270.4 L1234.5,270.7 L1236.5,270.9 L1238.5,271.2 L1240.5,271.5 L1242.5,271.8 L1244.5,272.1 L1246.5,272.5 L1248.5,272.8 L1250.5,273.1 L1252.5,273.4 L1254.5,273.8 L1256.5,274.1 L1258.5,274.5 L1260.5,274.8 L1262.5,275.2 L1264.5,275.6 L1266.5,275.9 L1268.5,276.3 L1270.5,276.7 L1272.5,277.1 L1274.5,277.5 L1276.5,277.9 L1278.5,278.3 L1280.5,278.7 L1282.5,279.1 L1284.5,279.6 L1286.5,280.0 L1288.5,280.4 L1290.5,280.9 L1292.5,281.3 L1294.5,281.8 L1296.5,282.3 L1298.5,282.7 L1300.5,283.2 L1302.5,283.7 L1304.5,284.2 L1306.5,284.7 L1308.5,285.2 L1310.5,285.7 L1312.5,286.2 L1314.5,286.7 L1316.5,287.2 L1318.5,287.8 L1320.5,288.3 L1322.5,288.8 L1324.5,289.4 L1326.5,289.9 L1328.5,290.5 L1330.5,291.1 L1332.5,291.6 L1334.5,292.2 L1336.5,292.8 L1338.5,293.4 L1340.5,294.0 L1342.5,294.6 L1344.5,295.2 L1346.5,295.8 L1348.5,296.4 L1350.5,297.0 L1352.5,297.6 L1354.5,298.2 L1356.5,298.9 L1358.5,299.5 L1360.5,300.1 L1362.5,300.8 L1364.5,301.4 L1366.5,302.1 L1368.5,302.7 L1370.5,303.4 L1372.5,304.0 L1374.5,304.7 L1376.5,305.4 L1378.5,306.0 L1380.5,306.7 L1382.5,307.4 L1384.5,308.1 L1386.5,308.7 L1388.5,309.4 L1390.5,310.1 L1392.5,310.8 L1394.5,311.5 L1396.5,312.2 L1398.5,312.9 L1400.5,313.6 L1402.5,314.3 L1404.5,315.0 L1406.5,315.7 L1408.5,316.4 L1410.5,317.1 L1412.5,317.8 L1414.5,318.5 L1416.5,319.2 L1418.5,319.9 L1420.5,320.6 L1422.5,321.4 L1424.5,322.1 L1426.5,322.8 L1428.5,323.5 L1430.5,324.2 L1432.5,324.9 L1434.5,325.6 L1436.5,326.4 L1438.5,327.1 L1440.5,327.8 L1442.5,328.5 L1444.5,329.2 L1446.5,330.0 L1448.5,330.7 L1450.5,331.4 L1452.5,332.1 L1454.5,332.9 L1456.5,333.6 L1458.5,334.3 L1460.5,335.0 L1462.5,335.8 L1464.5,336.5 L1466.5,337.3 L1468.5,338.0 L1470.5,338.8 L1472.5,339.5 L1474.5,340.3 L1476.5,341.0 L1478.5,341.8 L1480.5,342.5 L1482.5,343.3 L1484.5,344.1 L1486.5,344.9 L1488.5,345.7 L1490.5,346.4 L1492.5,347.2 L1494.5,348.0 L1496.5,348.8 L1498.5,349.6 L1500.5,350.5 L1502.5,351.3 L1504.5,352.1 L1506.5,352.9 L1508.5,353.8 L1510.5,354.6 L1512.5,355.5 L1514.5,356.3 L1516.5,357.2 L1518.5,358.0 L1520.5,358.9 L1522.5,359.8 L1524.5,360.7 L1526.5,361.6 L1528.5,362.5 L1530.5,363.4 L1532.5,364.3 L1534.5,365.3 L1536.5,366.2 L1538.5,367.1 L1540.5,368.1 L1542.5,369.1 L1544.5,370.0 L1546.5,371.0 L1548.5,372.0 L1550.5,373.0 L1552.5,374.0 L1554.5,375.0 L1556.5,376.1 L1558.5,377.1 L1560.5,378.1 L1562.5,379.2 L1564.5,380.2 L1566.5,381.3 L1568.5,382.4 L1570.5,383.5 L1572.5,384.6 L1574.5,385.7 L1576.5,386.8 L1578.5,387.9 L1580.5,389.0 L1582.5,390.1 L1584.5,391.3 L1586.5,392.4 L1588.5,393.6 L1590.5,394.8 L1592.5,395.9 L1594.5,397.1 L1596.5,398.3 L1598.5,399.5 L1600.5,400.7 L1602.5,401.9 L1604.5,403.1 L1606.5,404.4 L1608.5,405.6 L1610.5,406.9 L1612.5,408.1 L1614.5,409.4 L1616.5,410.6 L1618.5,411.9 L1620.5,413.2 L1622.5,414.5 L1624.5,415.8 L1626.5,417.1 L1628.5,418.4 L1630.5,419.7 L1632.5,421.1 L1634.5,422.4 L1636.5,423.7 L1638.5,425.1 L1640.5,426.4 L1642.5,427.8 L1644.5,429.2 L1646.5,430.5 L1648.5,431.9 L1650.5,433.3 L1652.5,434.7 L1654.5,436.1 L1654.7,436.0M1207.0,328.4 L1209.0,329.0 L1211.0,329.7 L1213.0,330.3 L1215.0,330.9 L1217.0,331.6 L1219.0,332.2 L1221.0,332.8 L1223.0,333.5 L1225.0,334.1 L1227.0,334.7 L1229.0,335.4 L1231.0,336.0 L1233.0,336.6 L1235.0,337.2 L1237.0,337.9 L1239.0,338.5 L1241.0,339.1 L1243.0,339.7 L1245.0,340.4 L1247.0,341.0 L1249.0,341.6 L1251.0,342.2 L1253.0,342.9 L1255.0,343.5 L1257.0,344.1 L1259.0,344.7 L1261.0,345.3 L1263.0,345.9 L1265.0,346.6 L1267.0,347.2 L1269.0,347.8 L1271.0,348.4 L1273.0,349.0 L1275.0,349.6 L1277.0,350.2 L1279.0,350.8 L1281.0,351.5 L1283.0,352.1 L1285.0,352.7 L1287.0,353.3 L1289.0,353.9 L1291.0,354.5 L1293.0,355.1 L1295.0,355.7 L1297.0,356.3 L1299.0,356.9 L1301.0,357.5 L1303.0,358.2 L1305.0,358.8 L1307.0,359.4 L1309.0,360.0 L1311.0,360.6 L1313.0,361.2 L1315.0,361.8 L1317.0,362.4 L1319.0,363.0 L1321.0,363.6 L1323.0,364.2 L1325.0,364.8 L1327.0,365.4 L1329.0,366.0 L1331.0,366.6 L1333.0,367.2 L1335.0,367.8 L1337.0,368.4 L1339.0,369.0 L1341.0,369.7 L1343.0,370.3 L1345.0,370.9 L1347.0,371.5 L1349.0,372.1 L1351.0,372.7 L1353.0,373.3 L1355.0,373.9 L1357.0,374.5 L1359.0,375.1 L1361.0,375.7 L1363.0,376.3 L1365.0,376.9 L1367.0,377.5 L1369.0,378.1 L1371.0,378.7 L1373.0,379.3 L1375.0,379.9 L1377.0,380.6 L1379.0,381.2 L1381.0,381.8 L1383.0,382.4 L1385.0,383.0 L1387.0,383.6 L1389.0,384.2 L1391.0,384.8 L1393.0,385.4 L1395.0,386.0 L1397.0,386.7 L1399.0,387.3 L1401.0,387.9 L1403.0,388.5 L1405.0,389.1 L1407.0,389.7 L1409.0,390.4 L1411.0,391.0 L1413.0,391.6 L1415.0,392.2 L1417.0,392.8 L1419.0,393.5 L1421.0,394.1 L1423.0,394.7 L1425.0,395.4 L1427.0,396.0 L1429.0,396.6 L1431.0,397.2 L1433.0,397.9 L1435.0,398.5 L1437.0,399.1 L1439.0,399.8 L1441.0,400.4 L1443.0,401.1 L1445.0,401.7 L1447.0,402.4 L1449.0,403.0 L1451.0,403.6 L1453.0,404.3 L1455.0,404.9 L1457.0,405.6 L1459.0,406.3 L1461.0,406.9 L1463.0,407.6 L1465.0,408.2 L1467.0,408.9 L1469.0,409.6 L1471.0,410.2 L1473.0,410.9 L1475.0,411.6 L1477.0,412.2 L1479.0,412.9 L1481.0,413.6 L1483.0,414.3 L1485.0,415.0 L1487.0,415.6 L1489.0,416.3 L1491.0,417.0 L1493.0,417.7 L1495.0,418.4 L1497.0,419.1 L1499.0,419.8 L1501.0,420.5 L1503.0,421.2 L1505.0,421.9 L1507.0,422.6 L1509.0,423.3 L1511.0,424.0 L1513.0,424.8 L1515.0,425.5 L1517.0,426.2 L1519.0,426.9 L1521.0,427.7 L1523.0,428.4 L1525.0,429.1 L1527.0,429.9 L1529.0,430.6 L1531.0,431.3 L1533.0,432.1 L1535.0,432.8 L1537.0,433.6 L1539.0,434.4 L1541.0,435.1 L1543.0,435.9 L1545.0,436.6 L1547.0,437.4 L1549.0,438.2 L1551.0,439.0 L1553.0,439.8 L1555.0,440.5 L1557.0,441.3 L1559.0,442.1 L1561.0,442.9 L1563.0,443.7 L1565.0,444.5 L1567.0,445.3 L1569.0,446.1 L1571.0,447.0 L1573.0,447.8 L1575.0,448.6 L1577.0,449.4 L1579.0,450.3 L1581.0,451.1 L1583.0,451.9 L1585.0,452.8 L1587.0,453.6 L1589.0,454.5 L1591.0,455.4 L1593.0,456.2 L1595.0,457.1 L1597.0,458.0 L1599.0,458.8 L1601.0,459.7 L1603.0,460.6 L1605.0,461.5 L1607.0,462.4 L1609.0,463.3 L1611.0,464.2 L1613.0,465.1 L1615.0,466.0 L1617.0,466.9 L1619.0,467.9 L1621.0,468.8 L1623.0,469.7 L1625.0,470.7 L1627.0,471.6 L1629.0,472.6 L1631.0,473.5 L1633.0,474.5 L1635.0,475.5 L1637.0,476.4 L1639.0,477.4 L1641.0,478.4 L1643.0,479.4 L1645.0,480.4 L1647.0,481.4 L1649.0,482.4 L1651.0,483.4 L1653.0,484.4 L1655.0,485.4 L1657.0,486.5 L1659.0,487.5 L1661.0,488.5 L1663.0,489.6 L1665.0,490.6 L1667.0,491.7 L1669.0,492.8 L1671.0,493.8 L1673.0,494.9 L1675.0,496.0 L1677.0,497.1 L1679.0,498.2 L1681.0,499.3 L1683.0,500.4 L1685.0,501.5 L1687.0,502.6 L1689.0,503.7 L1691.0,504.9 L1693.0,506.0 L1695.0,507.2 L1697.0,508.3 L1699.0,509.5 L1701.0,510.6 L1703.0,511.8 L1705.0,513.0 L1707.0,514.2 L1709.0,515.4 L1711.0,516.6 L1713.0,517.8 L1715.0,519.0 L1717.0,520.2 L1719.0,521.4 L1721.0,522.6 L1723.0,523.9 L1725.0,525.1 L1727.0,526.4 L1729.0,527.6 L1731.0,528.9 L1733.0,530.2 L1735.0,531.4 L1737.0,532.7 L1739.0,534.0 L1741.0,535.3 L1743.0,536.6 L1745.0,537.9 L1747.0,539.2 L1749.0,540.6 L1751.0,541.9 L1753.0,543.2 L1755.0,544.6 L1757.0,545.9 L1759.0,547.3 L1761.0,548.7 L1763.0,550.0 L1765.0,551.4 L1767.0,552.8 L1769.0,554.2 L1771.0,555.6 L1773.0,557.0 L1775.0,558.5 L1777.0,559.9 L1779.0,561.3 L1781.0,562.8 L1783.0,564.2 L1785.0,565.7 L1787.0,567.1 L1789.0,568.6 L1791.0,570.1 L1793.0,571.6 L1795.0,573.1 L1797.0,574.6 L1799.0,576.1 L1801.0,577.6 L1803.0,579.1 L1804.1,579.5M1207.0,341.6 L1209.0,342.2 L1211.0,342.8 L1213.0,343.4 L1215.0,344.0 L1217.0,344.6 L1219.0,345.2 L1221.0,345.8 L1223.0,346.4 L1225.0,347.0 L1227.0,347.5 L1229.0,348.1 L1231.0,348.7 L1233.0,349.2 L1235.0,349.8 L1237.0,350.4 L1239.0,350.9 L1241.0,351.5 L1243.0,352.0 L1245.0,352.6 L1247.0,353.1 L1249.0,353.7 L1251.0,354.2 L1253.0,354.8 L1255.0,355.3 L1257.0,355.9 L1259.0,356.4 L1261.0,356.9 L1263.0,357.5 L1265.0,358.0 L1267.0,358.6 L1269.0,359.1 L1271.0,359.6 L1273.0,360.2 L1275.0,360.7 L1277.0,361.3 L1279.0,361.8 L1281.0,362.4 L1283.0,362.9 L1285.0,363.5 L1287.0,364.0 L1289.0,364.6 L1291.0,365.1 L1293.0,365.7 L1295.0,366.2 L1297.0,366.8 L1299.0,367.4 L1301.0,367.9 L1303.0,368.5 L1305.0,369.1 L1307.0,369.6 L1309.0,370.2 L1311.0,370.8 L1313.0,371.4 L1315.0,372.0 L1317.0,372.6 L1319.0,373.2 L1321.0,373.8 L1323.0,374.4 L1325.0,375.0 L1327.0,375.6 L1329.0,376.3 L1331.0,376.9 L1333.0,377.5 L1335.0,378.2 L1337.0,378.8 L1339.0,379.5 L1341.0,380.1 L1343.0,380.8 L1345.0,381.5 L1347.0,382.1 L1349.0,382.8 L1351.0,383.5 L1353.0,384.2 L1355.0,384.9 L1357.0,385.6 L1359.0,386.3 L1361.0,387.0 L1363.0,387.8 L1365.0,388.5 L1367.0,389.3 L1369.0,390.0 L1371.0,390.8 L1373.0,391.5 L1375.0,392.3 L1377.0,393.1 L1379.0,393.9 L1381.0,394.7 L1383.0,395.5 L1385.0,396.3 L1387.0,397.1 L1389.0,397.9 L1391.0,398.8 L1393.0,399.6 L1395.0,400.4 L1397.0,401.3 L1399.0,402.2 L1401.0,403.1 L1403.0,403.9 L1405.0,404.8 L1407.0,405.7 L1409.0,406.7 L1411.0,407.6 L1413.0,408.5 L1415.0,409.4 L1417.0,410.4 L1419.0,411.3 L1421.0,412.3 L1423.0,413.2 L1425.0,414.2 L1427.0,415.2 L1429.0,416.2 L1431.0,417.1 L1433.0,418.1 L1435.0,419.1 L1437.0,420.1 L1439.0,421.1 L1441.0,422.1 L1443.0,423.2 L1445.0,424.2 L1447.0,425.2 L1449.0,426.2 L1451.0,427.3 L1453.0,428.3 L1455.0,429.4 L1457.0,430.4 L1459.0,431.4 L1461.0,432.5 L1463.0,433.6 L1465.0,434.6 L1467.0,435.7 L1469.0,436.7 L1471.0,437.8 L1473.0,438.9 L1475.0,439.9 L1477.0,441.0 L1479.0,442.1 L1481.0,443.2 L1483.0,444.3 L1485.0,445.4 L1487.0,446.5 L1489.0,447.7 L1491.0,448.8 L1493.0,449.9 L1495.0,451.1 L1497.0,452.3 L1499.0,453.5 L1501.0,454.7 L1503.0,455.9 L1505.0,457.1 L1507.0,458.4 L1509.0,459.7 L1511.0,461.0 L1513.0,462.3 L1515.0,463.6 L1517.0,465.0 L1519.0,466.4 L1521.0,467.8 L1523.0,469.2 L1525.0,470.6 L1527.0,472.1 L1529.0,473.6 L1531.0,475.2 L1533.0,476.7 L1535.0,478.3 L1537.0,479.9 L1539.0,481.6 L1541.0,483.3 L1543.0,485.0 L1543.4,485.6" stroke="#de3e2c" stroke-width="3.7" fill="none" stroke-linejoin="round"/>
<g fill="#1e1e1e" stroke="#1e1e1e" stroke-width="0.2" font-family="'Liberation Sans', sans-serif">
<text transform="translate(177.0,41.6) rotate(20.80) scale(1.000,1)" font-size="29.6">QDX1.5-32-0.75</text>
<text transform="translate(162.6,110.6) rotate(18.50) scale(1.000,1)" font-size="29.6">QDX3-24-0.75</text>
<text transform="translate(155.5,178.4) rotate(14.00) scale(1.000,1)" font-size="29.6">QDX1.5-25-0.55</text>
<text transform="translate(147.7,222.0) rotate(12.50) scale(1.000,1)" font-size="29.6">QDX3-20-0.55</text>
<text transform="translate(168.0,334.8) rotate(14.70) scale(1.000,1)" font-size="29.6">QDX1.5-16-0.37</text>
<text transform="translate(1285.0,62.5) rotate(46.50) scale(0.760,1)" font-size="28.0" stroke-width="0.15">QDX6-18/10-16</text>
<text transform="translate(1231.4,164.0) rotate(30.80) scale(0.760,1)" font-size="28.0" stroke-width="0.15">QDX10-12-0.55</text>
<text transform="translate(1451.3,316.0) rotate(18.80) scale(0.760,1)" font-size="28.0" stroke-width="0.15">QDX15-10-0.75</text>
<text transform="translate(1245.5,380.5) rotate(19.00) scale(0.760,1)" font-size="28.0" stroke-width="0.15">QDX15-7-0.55</text>
<text transform="translate(1518.6,417.6) rotate(22.30) scale(0.760,1)" font-size="28.0" stroke-width="0.15">QDX30-6-0.75</text>
</g>
<g fill="#1e1e1e" stroke="#1e1e1e" stroke-width="0.3" font-family="'Liberation Sans', sans-serif" font-size="31.5"><text x="108.0" y="23.5" text-anchor="end">35</text><text x="108.0" y="112.0" text-anchor="end">30</text><text x="108.0" y="199.8" text-anchor="end">25</text><text x="107.0" y="289.0" text-anchor="end">20</text><text x="105.5" y="379.6" text-anchor="end">15</text><text x="104.5" y="466.5" text-anchor="end">10</text><text x="103.5" y="559.0" text-anchor="end">5</text><text x="103.5" y="643.5" text-anchor="end">0</text><text x="1194.5" y="26.5" text-anchor="end">20</text><text x="1193.5" y="183.3" text-anchor="end">15</text><text x="1193.5" y="340.3" text-anchor="end">10</text><text x="1191.0" y="498.9" text-anchor="end">5</text><text x="1191.0" y="653.8" text-anchor="end">0</text><text x="120.0" y="742.0" text-anchor="middle" stroke-width="1.1">0</text><text x="270.7" y="742.0" text-anchor="middle">2</text><text x="420.9" y="742.0" text-anchor="middle">4</text><text x="568.1" y="745.0" text-anchor="middle">6</text><text x="716.8" y="750.0" text-anchor="middle">8</text><text x="866.5" y="750.0" text-anchor="middle">10</text><text x="1207.5" y="747.0" text-anchor="middle">0</text><text x="1284.8" y="746.5" text-anchor="middle">5</text><text x="1366.2" y="747.5" text-anchor="middle">10</text><text x="1440.5" y="747.0" text-anchor="middle">15</text><text x="1514.9" y="748.0" text-anchor="middle">20</text><text x="1584.8" y="746.0" text-anchor="middle">25</text><text x="1659.1" y="745.5" text-anchor="middle">30</text><text x="1733.5" y="745.0" text-anchor="middle">35</text><text x="1807.8" y="744.5" text-anchor="middle">40</text><text x="1882.2" y="744.0" text-anchor="middle">45</text><text x="1956.5" y="743.5" text-anchor="middle">50</text></g>
<path d="M119.6,667.5H865.9" stroke="#222" stroke-width="2.9"/>
<path d="M121.0,647V688.8M269.7,667V688.8M418.4,667V688.8M567.1,667V688.8M715.8,667V688.8M864.5,667V688.8" stroke="#222" stroke-width="3"/>
<path d="M1207.1,673.4H1953.4" stroke="#222" stroke-width="2.9"/>
<path d="M1208.5,673V699.3M1282.8,673V699.3M1357.2,673V699.3M1431.5,673V699.3M1505.9,673V699.3M1580.2,673V699.3M1654.6,673V699.3M1729.0,673V699.3M1803.3,673V699.3M1877.7,673V699.3M1952.0,673V699.3" stroke="#222" stroke-width="3"/>
<text x="753.0" y="51.0" text-anchor="middle" font-family="'Liberation Sans', 'Noto Sans CJK SC', sans-serif" font-size="30.5" fill="#1e1e1e" stroke="#1e1e1e" stroke-width="0.3">同步转速</text>
<text x="753.5" y="82.5" text-anchor="middle" font-family="'Liberation Sans', sans-serif" font-size="30" fill="#1e1e1e" stroke="#1e1e1e" stroke-width="0.35">3000r/min</text>
<text x="1840.5" y="91.6" text-anchor="middle" font-family="'Liberation Sans', 'Noto Sans CJK SC', sans-serif" font-size="30.5" fill="#1e1e1e" stroke="#1e1e1e" stroke-width="0.3">同步转速</text>
<text x="1841.0" y="123.0" text-anchor="middle" font-family="'Liberation Sans', sans-serif" font-size="30" fill="#1e1e1e" stroke="#1e1e1e" stroke-width="0.35">3000r/min</text>
<g transform="translate(25.0,0) rotate(-90)" font-size="28" fill="#1e1e1e" stroke="#1e1e1e" stroke-width="0.3"><text x="-148.5" y="0" text-anchor="middle" font-family="'Liberation Sans', 'Noto Sans CJK SC', sans-serif">扬</text><text x="-119.5" y="0" text-anchor="middle" font-family="'Liberation Sans', 'Noto Sans CJK SC', sans-serif">程</text><text x="-89.9" y="0" text-anchor="middle" font-family="'Liberation Sans', 'Noto Sans CJK SC', sans-serif">（</text><text x="-61.0" y="0" text-anchor="middle" font-family="'Liberation Sans', sans-serif">m</text><text x="-30.0" y="0" text-anchor="middle" font-family="'Liberation Sans', 'Noto Sans CJK SC', sans-serif">）</text></g>
<path d="M1.3,213.4L13.3,198.0L25.4,213.4Z" fill="#231f1c"/>
<g transform="translate(1112.0,0) rotate(-90)" font-size="28" fill="#1e1e1e" stroke="#1e1e1e" stroke-width="0.3"><text x="-148.5" y="0" text-anchor="middle" font-family="'Liberation Sans', 'Noto Sans CJK SC', sans-serif">扬</text><text x="-119.5" y="0" text-anchor="middle" font-family="'Liberation Sans', 'Noto Sans CJK SC', sans-serif">程</text><text x="-89.9" y="0" text-anchor="middle" font-family="'Liberation Sans', 'Noto Sans CJK SC', sans-serif">（</text><text x="-61.0" y="0" text-anchor="middle" font-family="'Liberation Sans', sans-serif">m</text><text x="-30.0" y="0" text-anchor="middle" font-family="'Liberation Sans', 'Noto Sans CJK SC', sans-serif">）</text></g>
<path d="M1087.8,213.3L1100.7,196.6L1113.5,213.3Z" fill="#231f1c"/>
<g font-size="29.5" fill="#1e1e1e" stroke="#1e1e1e" stroke-width="0.3"><text x="650.4" y="812.3" font-family="'Liberation Sans', 'Noto Sans CJK SC', sans-serif">流</text><text x="680.6" y="812.3" font-family="'Liberation Sans', 'Noto Sans CJK SC', sans-serif">量</text><text x="705.9" y="812.3" font-family="'Liberation Sans', 'Noto Sans CJK SC', sans-serif">（</text><text x="0.0" y="812.3" font-family="'Liberation Sans', sans-serif" transform="translate(741.7,0) scale(1.1,1) translate(0.0,0)">m</text><text x="766.7" y="799.0" font-family="'Liberation Sans', sans-serif" font-size="18">3</text><text x="776.6" y="812.3" font-family="'Liberation Sans', sans-serif">/</text><text x="784.7" y="812.3" font-family="'Liberation Sans', sans-serif">h</text><text x="807.0" y="812.3" font-family="'Liberation Sans', 'Noto Sans CJK SC', sans-serif">）</text></g>
<path d="M835,790L857.7,802.4L835,814.7Z" fill="#231f1c"/>
<g font-size="29.5" fill="#1e1e1e" stroke="#1e1e1e" stroke-width="0.3"><text x="1737.0" y="821.3" font-family="'Liberation Sans', 'Noto Sans CJK SC', sans-serif">流</text><text x="1768.4" y="821.3" font-family="'Liberation Sans', 'Noto Sans CJK SC', sans-serif">量</text><text x="1794.0" y="821.3" font-family="'Liberation Sans', 'Noto Sans CJK SC', sans-serif">（</text><text x="0.0" y="821.3" font-family="'Liberation Sans', sans-serif" transform="translate(1827.6,0) scale(1.1,1) translate(0.0,0)">m</text><text x="1852.3" y="808.0" font-family="'Liberation Sans', sans-serif" font-size="18">3</text><text x="1863.6" y="821.3" font-family="'Liberation Sans', sans-serif">/</text><text x="1871.8" y="821.3" font-family="'Liberation Sans', sans-serif">h</text><text x="1893.4" y="821.3" font-family="'Liberation Sans', 'Noto Sans CJK SC', sans-serif">）</text></g>
<path d="M1922.6,797.6L1943.7,809.8L1922.6,822Z" fill="#231f1c"/>
</svg></body></html>
